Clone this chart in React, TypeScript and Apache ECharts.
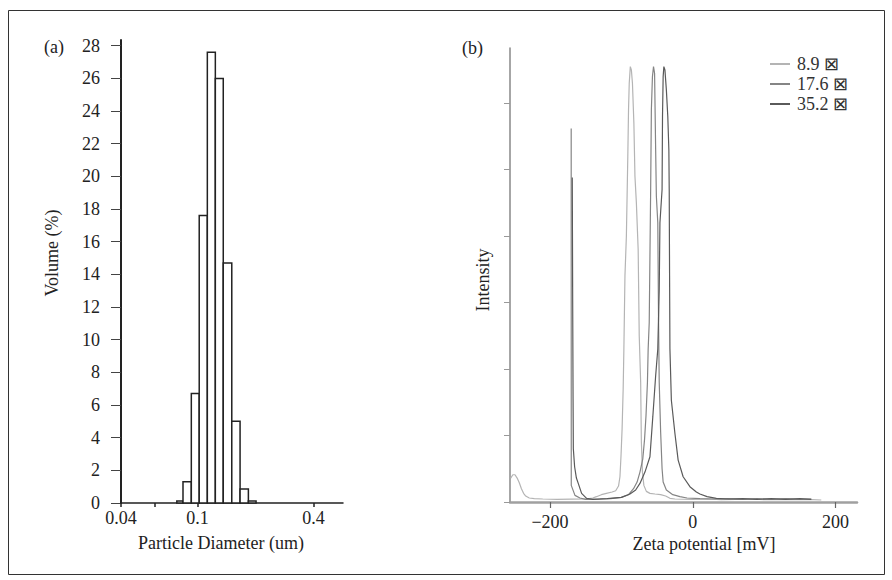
import React, { useEffect, useRef } from "react";
import * as echarts from "echarts";

// ---- Panel (a): particle size histogram ----
const binEdgesUm = [0.078, 0.084, 0.0928, 0.102, 0.1124, 0.1237, 0.136, 0.1506, 0.1663, 0.1837, 0.2014];
const volumePct = [0.12, 1.3, 6.7, 17.6, 27.6, 26.0, 14.7, 5.0, 0.85, 0.12];
const volumeTicks = [0, 2, 4, 6, 8, 10, 12, 14, 16, 18, 20, 22, 24, 26, 28];
const diameterTickValues = [0.04, 0.06, 0.1, 0.4];
const diameterLabelValues = [0.04, 0.1, 0.4];

// ---- Panel (b): zeta potential distributions [mV, intensity] ----
const zeta89: number[][] = [
  [-255, 0.36], [-252, 0.41], [-249, 0.41], [-246, 0.36], [-243, 0.29], [-240, 0.2], [-237, 0.13],
  [-234, 0.09], [-229, 0.06], [-222, 0.05], [-210, 0.045], [-190, 0.04], [-170, 0.042], [-150, 0.045],
  [-140, 0.06], [-135, 0.08], [-128, 0.11], [-121, 0.13], [-113, 0.15], [-108, 0.17], [-104, 0.24],
  [-102, 0.38], [-100.5, 0.7], [-99, 1.1], [-97.5, 1.7], [-96.5, 2.3], [-95, 3.4], [-93, 4.0], [-92, 4.6],
  [-91, 5.2], [-90, 5.9], [-89, 6.3], [-87.5, 6.55], [-86, 6.5], [-84.5, 6.3], [-82.5, 5.7], [-81, 4.9],
  [-79, 4.5], [-76.5, 3.8], [-75, 2.5], [-73, 1.8], [-72, 0.9], [-70.5, 0.45], [-68.5, 0.25], [-65, 0.16],
  [-60, 0.13], [-53, 0.12], [-45, 0.11], [-38, 0.09], [-32, 0.055], [-25, 0.045], [0, 0.04], [20, 0.045],
  [40, 0.035], [60, 0.04], [80, 0.045], [100, 0.035], [120, 0.04], [140, 0.035], [160, 0.04], [180, 0.03],
];
const zeta176: number[][] = [
  [-170.3, 5.62], [-170.2, 0.25], [-165, 0.1], [-158, 0.06], [-150, 0.04], [-130, 0.045], [-115, 0.05],
  [-100, 0.07], [-90, 0.11], [-83, 0.2], [-78, 0.3], [-74, 0.45], [-70, 0.65], [-67.5, 0.95], [-65.5, 1.3],
  [-63.5, 1.8], [-62.5, 2.3], [-61, 2.7], [-60, 3.7], [-59, 4.7], [-58, 5.9], [-56.5, 6.4], [-55, 6.55],
  [-53.5, 6.45], [-52, 5.3], [-51, 4.6], [-49, 4.2], [-48, 2.8], [-47, 1.8], [-45, 1.05], [-43, 0.5],
  [-41.5, 0.3], [-37, 0.18], [-28, 0.11], [-18, 0.08], [-8, 0.06], [10, 0.05], [30, 0.045], [50, 0.05],
  [70, 0.04], [90, 0.05], [110, 0.04], [130, 0.05], [150, 0.04], [166, 0.045],
];
const zeta352: number[][] = [
  [-168.8, 4.88], [-168.2, 3.0], [-167.7, 1.6], [-167.3, 0.8], [-165.5, 0.53], [-163, 0.36], [-160.4, 0.28],
  [-155.7, 0.13], [-148.7, 0.055], [-140, 0.04], [-120, 0.05], [-100, 0.07], [-88, 0.12], [-80, 0.18],
  [-74, 0.28], [-67, 0.45], [-60, 0.68], [-56, 1.28], [-52, 1.9], [-49, 2.3], [-47, 3.2], [-46, 4.2],
  [-43, 4.7], [-42.4, 5.8], [-41.5, 6.4], [-40.5, 6.55], [-39, 6.5], [-37, 6.2], [-35, 5.8], [-33.5, 5.3],
  [-33, 4.7], [-32.5, 3.4], [-32, 2.3], [-30, 1.53], [-25, 1.03], [-20.5, 0.63], [-13.5, 0.38], [-4, 0.23],
  [5, 0.15], [10, 0.12], [20, 0.08], [33, 0.055], [50, 0.045], [70, 0.05], [90, 0.04], [110, 0.05],
  [130, 0.04], [150, 0.05], [166, 0.04],
];
const seriesNames = ["8.9 ⊠", "17.6 ⊠", "35.2 ⊠"];
const seriesColors = ["#b4b4b4", "#858585", "#5a5a5a"];
const zetaTicks = [-200, 0, 200];
const intensityTicks = [0, 1, 2, 3, 4, 5, 6];

const FONT = "Liberation Serif";

export default function App() {
  const ref = useRef<HTMLDivElement>(null);
  useEffect(() => {
    if (!ref.current) return;
    const chart = echarts.init(ref.current, undefined, { renderer: "svg" });
    const histData = volumePct.map((v, i) => [Math.log10(binEdgesUm[i]), Math.log10(binEdgesUm[i + 1]), v]);
    const zetaData = [zeta89, zeta176, zeta352];
    const txt = { fontFamily: FONT, fontSize: 18, color: "#222" };

    chart.setOption({
      animation: false,
      backgroundColor: "#fff",
      grid: [
        { left: 121, top: 40, width: 222, height: 463 },
        { left: 510, top: 48, width: 347, height: 454 },
      ],
      xAxis: [
        {
          gridIndex: 0,
          type: "value",
          min: Math.log10(0.04),
          max: Math.log10(0.57),
          splitLine: { show: false },
          axisLine: { onZero: false, lineStyle: { color: "#222", width: 1.5 } },
          axisTick: {
            length: 4,
            lineStyle: { color: "#222", width: 1.5 },
            customValues: diameterTickValues.map((d) => Math.log10(d)),
          },
          axisLabel: {
            ...txt,
            margin: 6,
            customValues: diameterLabelValues.map((d) => Math.log10(d)),
            formatter: (v: number) => String(parseFloat(Math.pow(10, v).toPrecision(2))),
          },
        },
        {
          gridIndex: 1,
          type: "value",
          min: -256,
          max: 230,
          splitLine: { show: false },
          axisLine: { onZero: false, lineStyle: { color: "#a0a0a0", width: 2.5 } },
          axisTick: { length: 6, lineStyle: { color: "#666", width: 1.2 }, customValues: zetaTicks },
          axisLabel: {
            ...txt,
            margin: 11,
            customValues: zetaTicks,
            formatter: (v: number) => (v < 0 ? "\u2212" + Math.abs(v) : String(v)),
          },
        },
      ],
      yAxis: [
        {
          gridIndex: 0,
          type: "value",
          min: 0,
          max: 28.35,
          splitLine: { show: false },
          axisLine: { show: true, onZero: false, lineStyle: { color: "#222", width: 2 } },
          axisTick: { show: true, length: 10, lineStyle: { color: "#444", width: 1 }, customValues: volumeTicks },
          axisLabel: { ...txt, margin: 21, customValues: volumeTicks },
        },
        {
          gridIndex: 1,
          type: "value",
          min: 0,
          max: 6.83,
          splitLine: { show: false },
          axisLine: { show: true, onZero: false, lineStyle: { color: "#888", width: 1.5 } },
          axisTick: { show: true, length: 6, lineStyle: { color: "#999", width: 1 }, customValues: intensityTicks },
          axisLabel: { show: false },
        },
      ],
      legend: {
        orient: "vertical",
        left: 765,
        top: 50,
        itemWidth: 20,
        itemHeight: 2,
        itemGap: 2,
        icon: "rect",
        textStyle: { fontFamily: FONT, fontSize: 18, color: "#333", padding: [0, 0, 0, 2] },
        data: seriesNames,
      },
      series: [
        {
          type: "custom",
          xAxisIndex: 0,
          yAxisIndex: 0,
          data: histData,
          encode: { x: [0, 1], y: 2 },
          renderItem: (_p: any, api: any) => {
            const a = api.coord([api.value(0), api.value(2)]);
            const b = api.coord([api.value(1), 0]);
            return {
              type: "rect",
              shape: { x: a[0], y: a[1], width: b[0] - a[0], height: b[1] - a[1] },
              style: { fill: "#fff", stroke: "#222", lineWidth: 1.5 },
            };
          },
        },
        ...zetaData.map((d, i) => ({
          name: seriesNames[i],
          type: "line",
          xAxisIndex: 1,
          yAxisIndex: 1,
          data: d,
          showSymbol: false,
          color: seriesColors[i],
          itemStyle: { color: seriesColors[i] },
          lineStyle: { color: seriesColors[i], width: 1.2 },
        })),
      ],
      graphic: [
        { type: "rect", shape: { x: 8.5, y: 10.5, width: 876, height: 564 }, style: { fill: "none", stroke: "#333", lineWidth: 1 }, silent: true },
        { type: "text", x: 44, y: 47, style: { text: "(a)", fontFamily: FONT, fontSize: 18, fill: "#222", align: "left", verticalAlign: "middle" } },
        { type: "text", x: 462, y: 48, style: { text: "(b)", fontFamily: FONT, fontSize: 18, fill: "#222", align: "left", verticalAlign: "middle" } },
        { type: "text", x: 52, y: 253, rotation: Math.PI / 2, style: { text: "Volume (%)", fontFamily: FONT, fontSize: 18, fill: "#222", align: "center", verticalAlign: "middle" } },
        { type: "text", x: 221, y: 543, style: { text: "Particle Diameter (um)", fontFamily: FONT, fontSize: 18, fill: "#222", align: "center", verticalAlign: "middle" } },
        { type: "text", x: 483, y: 280, rotation: Math.PI / 2, style: { text: "Intensity", fontFamily: FONT, fontSize: 18, fill: "#222", align: "center", verticalAlign: "middle" } },
        { type: "text", x: 704, y: 544, style: { text: "Zeta potential [mV]", fontFamily: FONT, fontSize: 18, fill: "#222", align: "center", verticalAlign: "middle" } },
      ],
    });
    return () => chart.dispose();
  }, []);
  return <div ref={ref} style={{ position: "absolute", left: 0, top: 0, width: 892, height: 580 }} />;
}
